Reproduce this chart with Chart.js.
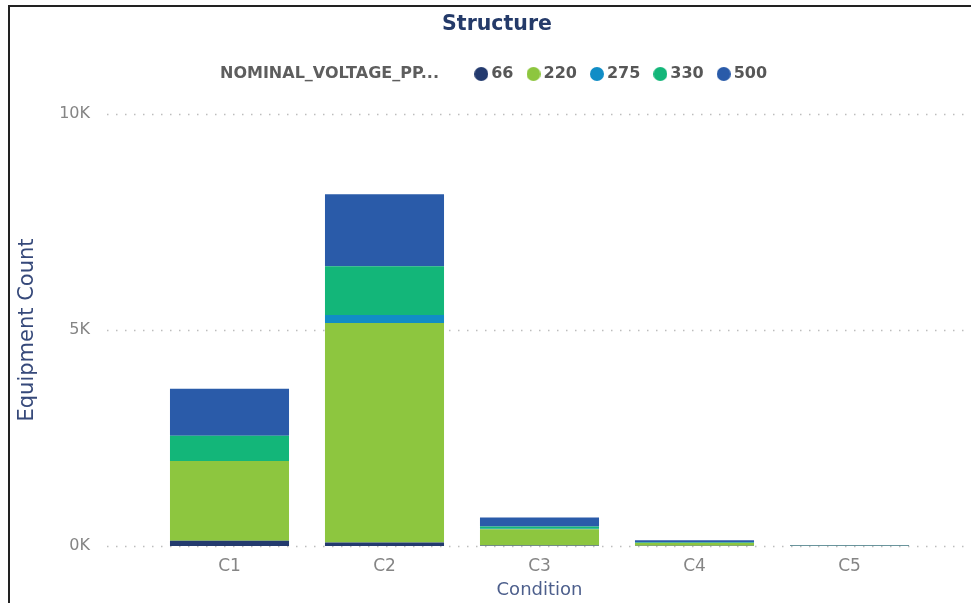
<!DOCTYPE html>
<html>
<head>
<meta charset="utf-8">
<script src="https://cdn.jsdelivr.net/npm/chart.js@4.4.0/dist/chart.umd.min.js"></script>
<style>
html, body { margin: 0; padding: 0; background: #fff; overflow: hidden; }
#frame { position: absolute; left: 8px; top: 5px; width: 990px; height: 620px; border-left: 2px solid #222; border-top: 2px solid #222; }
#c { position: absolute; left: 0; top: 0; }
</style>
</head>
<body>
<div id="frame"></div>
<canvas id="c" width="971" height="603"></canvas>
<script>
// values
var categories = ['C1', 'C2', 'C3', 'C4', 'C5'];
var v66  = [120, 80, 10, 5, 0];
var v220 = [1850, 5080, 380, 65, 5];
var v275 = [0, 185, 10, 0, 0];
var v330 = [580, 1130, 50, 10, 0];
var v500 = [1090, 1670, 210, 55, 20];
var voltages = ['66', '220', '275', '330', '500'];
var colors = ['#233a6e', '#8dc63f', '#118dc6', '#13b679', '#2a5ba9'];
var legendTitle = 'NOMINAL_VOLTAGE_PP...';
var yTicks = [0, 5000, 10000];

var series = [v66, v220, v275, v330, v500];
var datasets = series.map(function(vals, i) {
    return {
        label: voltages[i],
        data: vals,
        backgroundColor: colors[i],
        borderWidth: 0,
        categoryPercentage: 1,
        barPercentage: 0.768
    };
});

// round legend markers sitting close to their text
function dot(color) {
    var c = document.createElement('canvas');
    c.width = 14;
    c.height = 14;
    var g = c.getContext('2d');
    g.fillStyle = color;
    g.beginPath();
    g.arc(7, 7, 7, 0, Math.PI * 2);
    g.fill();
    return c;
}
var dots = colors.map(dot);

// dotted grid that runs past the plot like the original
var dottedGrid = {
    id: 'dottedGrid',
    beforeDatasetsDraw: function(chart) {
        var y = chart.scales.y, ctx = chart.ctx, area = chart.chartArea;
        ctx.save();
        ctx.strokeStyle = '#bdbdbd';
        ctx.lineWidth = 1.5;
        ctx.setLineDash([1.5, 7.5]);
        y.ticks.forEach(function(t) {
            var py = Math.round(y.getPixelForValue(t.value)) + 0.5;
            ctx.beginPath();
            ctx.moveTo(area.left - 45, py);
            ctx.lineTo(area.right + 39, py);
            ctx.stroke();
        });
        ctx.restore();
    }
};

// legend on one row with its title; title and legend moved to where the original has them
var legendLayout = {
    id: 'legendLayout',
    beforeInit: function(chart) {
        var fit = chart.legend.fit;
        chart.legend.fit = function() {
            fit.call(this);
            this.height = 66;
        };
    },
    afterLayout: function(chart) {
        chart.legend.left = 190;
        chart.titleBlock.left = 67;
        chart.titleBlock.right = 927;
    }
};

new Chart(document.getElementById('c'), {
    type: 'bar',
    data: { labels: categories, datasets: datasets },
    options: {
        responsive: false,
        animation: false,
        devicePixelRatio: 1,
        layout: { padding: { left: 0, right: 44, top: 0, bottom: 0 } },
        plugins: {
            tooltip: { enabled: false },
            title: {
                display: true,
                text: 'Structure',
                color: '#243a69',
                font: { family: 'DejaVu Sans', size: 20.5, weight: 'bold' },
                padding: { top: 12.7, bottom: 10.7 }
            },
            legend: {
                position: 'top',
                align: 'start',
                onClick: null,
                labels: {
                    usePointStyle: true,
                    pointStyleWidth: 4,
                    padding: 18,
                    color: '#575757',
                    font: { family: 'DejaVu Sans', size: 16, weight: 'bold' },
                    generateLabels: function(chart) {
                        var items = Chart.defaults.plugins.legend.labels.generateLabels(chart);
                        items.forEach(function(it) {
                            it.pointStyle = dots[it.datasetIndex];
                            it.fontColor = '#575757';
                        });
                        items.unshift({
                            text: legendTitle + '\u00a0\u00a0\u00a0\u00a0',
                            fillStyle: 'rgba(0,0,0,0)',
                            strokeStyle: 'rgba(0,0,0,0)',
                            lineWidth: 0,
                            hidden: false,
                            datasetIndex: -1,
                            pointStyle: 'circle',
                            fontColor: '#5e5e5e'
                        });
                        return items;
                    }
                }
            }
        },
        scales: {
            x: {
                stacked: true,
                offset: true,
                grid: { display: false, drawTicks: false },
                border: { display: false },
                ticks: { padding: 10.5, color: '#858585', font: { family: 'DejaVu Sans', size: 17 } },
                title: {
                    display: true,
                    text: 'Condition',
                    color: '#4d5f8c',
                    font: { family: 'DejaVu Sans', size: 18 },
                    padding: { top: 0, bottom: 2.2 }
                },
                afterFit: function(s) { s.height = 57; }
            },
            y: {
                stacked: true,
                min: 0,
                max: 10000,
                afterBuildTicks: function(s) {
                    s.ticks = yTicks.map(function(v) { return { value: v }; });
                },
                grid: { display: false, drawTicks: false },
                border: { display: false },
                ticks: {
                    padding: 62,
                    color: '#858585',
                    font: { family: 'DejaVu Sans', size: 16 },
                    callback: function(v) { return (v / 1000) + 'K'; }
                },
                title: {
                    display: true,
                    text: 'Equipment Count',
                    color: '#36497a',
                    font: { family: 'DejaVu Sans', size: 21 },
                    padding: { top: 15, bottom: 0 }
                },
                afterFit: function(s) {
                    s.width = 152;
                    s.paddingTop = 10;
                    s.paddingBottom = 10;
                }
            }
        }
    },
    plugins: [dottedGrid, legendLayout]
});
</script>
</body>
</html>
